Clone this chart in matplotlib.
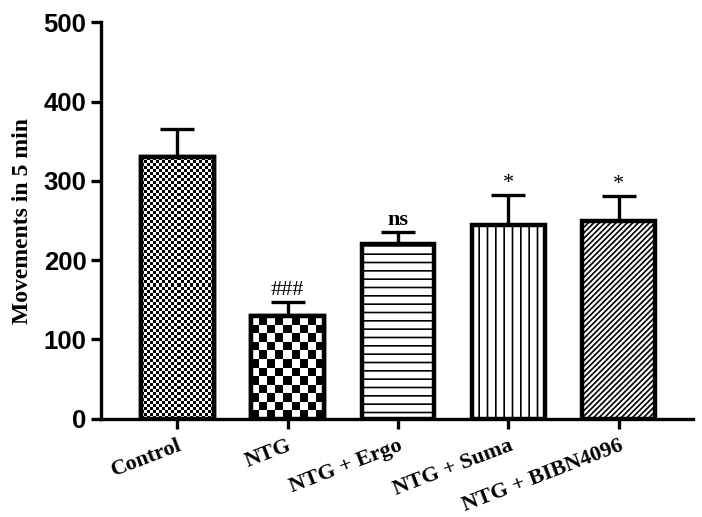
import numpy as np
import matplotlib.pyplot as plt

groups = ['Control', 'NTG', 'NTG + Ergo', 'NTG + Suma', 'NTG + BIBN4096']
means = [330, 129, 220, 244, 250]
sem = [36, 18, 15, 38, 31]
marks = ['', '###', 'ns', '*', '*']

plt.rcParams['hatch.linewidth'] = 1.2

fig = plt.figure(figsize=(7.02, 5.17), dpi=100)
ax = fig.add_axes([0.144, 0.19, 0.843, 0.767])

x = np.arange(len(groups))
width = 0.66
hatches = [None, None, '--', '||', '//////']

ax.errorbar(x, means, yerr=[np.zeros(len(sem)), sem], fmt='none', ecolor='black',
            elinewidth=2.4, capsize=12.5, capthick=2.4, zorder=1)
bars = ax.bar(x, means, width, color='white', edgecolor='black', linewidth=3.2,
              zorder=2)
for b, h in zip(bars, hatches):
    if h:
        b.set_hatch(h)

# checkerboard fills for the first two bars
for b, cell in zip(bars[:2], [3.0, 8.5]):
    x0, w = b.get_x(), b.get_width()
    hgt = b.get_height()
    px_w = 73.0
    px_h = hgt * 0.794
    nx = int(round(px_w / cell))
    ny = int(round(px_h / cell))
    board = (np.add.outer(np.arange(ny), np.arange(nx)) % 2).astype(float)
    im = ax.imshow(board, cmap='gray', extent=[x0, x0 + w, 0, hgt], aspect='auto',
                   interpolation='nearest', zorder=2.5, origin='lower')
    im.set_clip_path(b)
    ax.bar(b.get_x() + w / 2, hgt, w, color='none', edgecolor='black',
           linewidth=3.2, zorder=3)

for xi, m, s, t in zip(x, means, sem, marks):
    if t:
        weight = 'bold' if t == 'ns' else 'normal'
        ax.text(xi, m + s + 3, t, ha='center', va='bottom', family='Liberation Serif',
                fontsize=16, fontweight=weight)

ax.set_xlim(-0.688, 4.67)
ax.set_ylim(0, 500)
ax.set_yticks([0, 100, 200, 300, 400, 500])
ax.set_xticks(x)
ax.set_xticklabels(groups, rotation=21, ha='right', rotation_mode='anchor',
                   family='Liberation Serif', fontweight='bold', fontsize=16)
for lab in ax.get_yticklabels():
    lab.set_family('Liberation Sans')
    lab.set_fontweight('bold')
    lab.set_fontsize(18.5)
ax.set_ylabel('Movements in 5 min', family='Liberation Serif', fontweight='bold',
              fontsize=17, labelpad=8)

for side in ['top', 'right']:
    ax.spines[side].set_visible(False)
for side in ['left', 'bottom']:
    ax.spines[side].set_linewidth(2.4)
ax.tick_params(width=2.4, length=7, direction='out')
ax.tick_params(axis='x', pad=5)

fig.savefig('out.png', dpi=100)
